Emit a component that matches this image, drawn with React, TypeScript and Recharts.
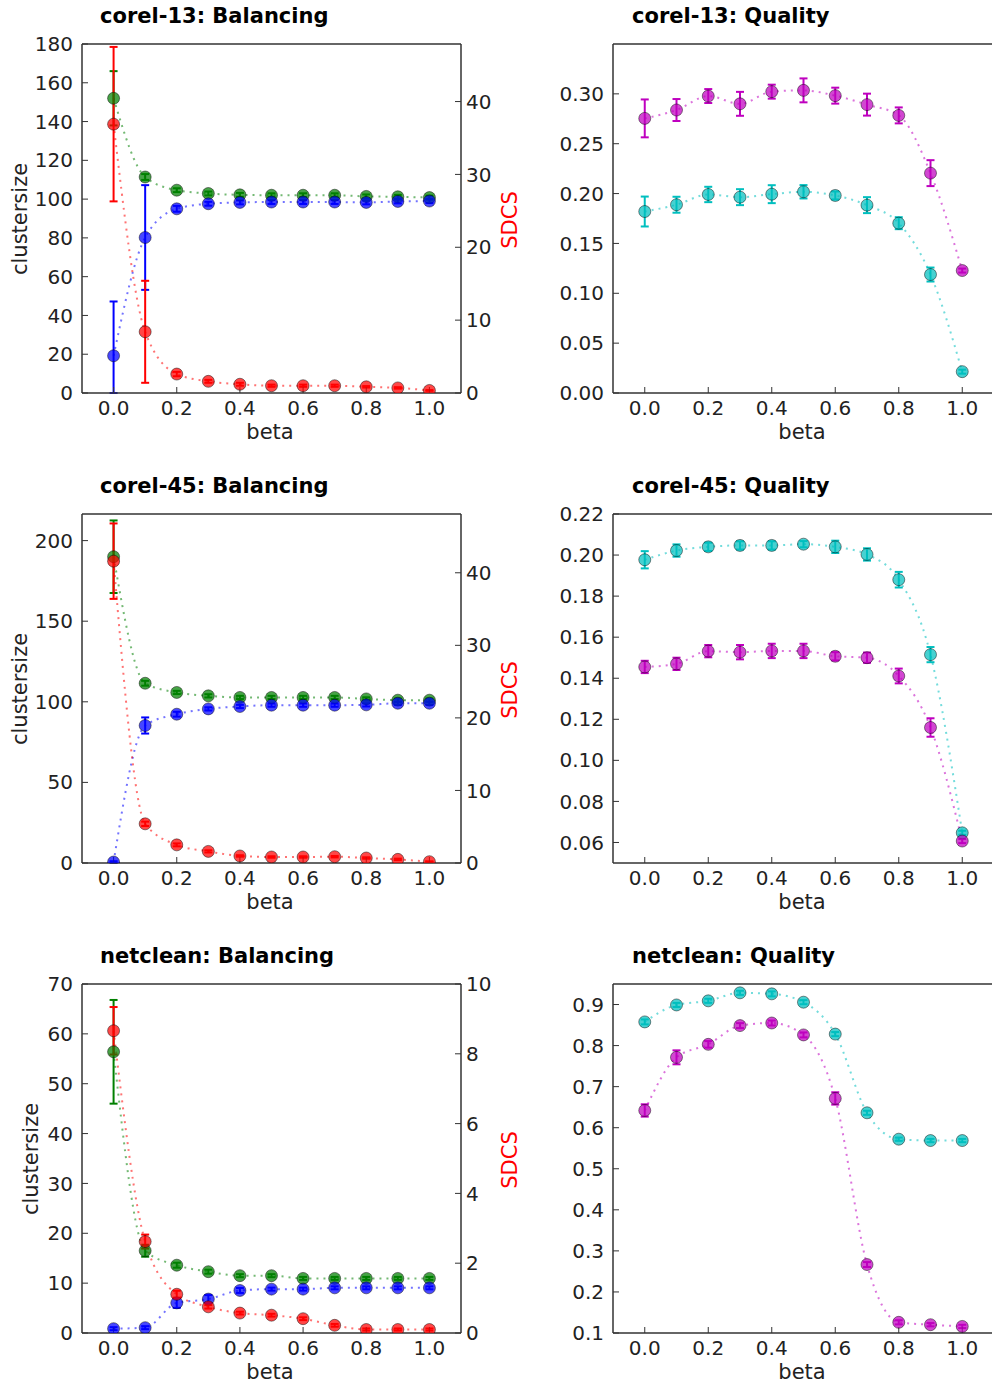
import React from 'react'
import { ComposedChart, Line, XAxis, YAxis, ErrorBar } from 'recharts'

const beta = [0, 0.1, 0.2, 0.3, 0.4, 0.5, 0.6, 0.7, 0.8, 0.9, 1.0]
const betaTicks = [0, 0.2, 0.4, 0.6, 0.8, 1.0]

// corel-13 balancing (green / blue on clustersize axis, red on SDCS axis)
const c13Green = [152, 111.4, 104.6, 102.9, 102.2, 102.0, 102.0, 102.0, 101.4, 101.2, 100.8]
const c13GreenErr = [14, 1.5, 1, 1, 1, 1, 1, 1, 1, 1, 1]
const c13Blue = [19.2, 80.2, 95, 97.6, 98.3, 98.5, 98.5, 98.5, 98.3, 98.8, 99]
const c13BlueErr = [28, 27, 1.5, 1, 1, 1, 1, 1, 1, 1, 1]
const c13Red = [36.9, 8.4, 2.6, 1.6, 1.2, 1.0, 1.0, 1.0, 0.85, 0.7, 0.35]
const c13RedErr = [10.6, 7.0, 0.3, 0.2, 0.2, 0.15, 0.15, 0.15, 0.1, 0.1, 0.05]

// corel-13 quality
const c13Magenta = [0.2754, 0.2838, 0.2978, 0.29, 0.3022, 0.3035, 0.2982, 0.2892, 0.2784, 0.2205, 0.1228]
const c13MagentaErr = [0.019, 0.011, 0.007, 0.012, 0.007, 0.012, 0.008, 0.011, 0.008, 0.013, 0.002]
const c13Cyan = [0.182, 0.1888, 0.1991, 0.1964, 0.1994, 0.2018, 0.1981, 0.1884, 0.1703, 0.1188, 0.0214]
const c13CyanErr = [0.015, 0.008, 0.0077, 0.008, 0.009, 0.0067, 0.004, 0.008, 0.006, 0.007, 0.002]

// corel-45 balancing
const c45Green = [190, 111.5, 105.8, 103.7, 102.7, 102.7, 102.7, 102.7, 101.8, 101, 101]
const c45GreenErr = [22.5, 1.5, 1, 1, 1, 1, 1, 1, 1, 1, 1]
const c45Blue = [0.6, 85.3, 92.3, 95.6, 97.1, 97.9, 97.9, 97.9, 98.1, 99.1, 99.1]
const c45BlueErr = [0.5, 5, 1.5, 1, 1, 1, 1, 1, 1, 1, 1]
const c45Red = [41.6, 5.4, 2.5, 1.6, 0.97, 0.83, 0.83, 0.87, 0.69, 0.5, 0.18]
const c45RedErr = [5.2, 0.3, 0.2, 0.15, 0.1, 0.1, 0.1, 0.1, 0.1, 0.1, 0.05]

// corel-45 quality
const c45Cyan = [0.1977, 0.2022, 0.204, 0.2047, 0.2047, 0.2053, 0.204, 0.2003, 0.188, 0.1515, 0.0647]
const c45CyanErr = [0.0042, 0.003, 0.002, 0.002, 0.002, 0.0015, 0.003, 0.003, 0.0038, 0.0037, 0.001]
const c45Magenta = [0.1455, 0.147, 0.1532, 0.1527, 0.1533, 0.1533, 0.1507, 0.15, 0.1411, 0.116, 0.0607]
const c45MagentaErr = [0.003, 0.003, 0.003, 0.0035, 0.0035, 0.0035, 0.002, 0.0025, 0.0036, 0.0045, 0.001]

// netclean balancing
const ncGreen = [56.4, 16.5, 13.6, 12.3, 11.5, 11.5, 10.95, 10.95, 10.95, 10.95, 10.95]
const ncGreenErr = [10.4, 1.2, 0.5, 0.4, 0.3, 0.3, 0.3, 0.3, 0.3, 0.3, 0.3]
const ncBlue = [0.87, 1.07, 6.04, 6.8, 8.53, 8.8, 8.8, 9.06, 9.06, 9.06, 9.06]
const ncBlueErr = [0.3, 0.3, 1, 0.8, 0.5, 0.3, 0.3, 0.3, 0.3, 0.3, 0.3]
const ncRed = [8.66, 2.62, 1.11, 0.75, 0.57, 0.51, 0.41, 0.22, 0.1, 0.1, 0.1]
const ncRedErr = [0.68, 0.2, 0.1, 0.05, 0.04, 0.04, 0.04, 0.04, 0.03, 0.03, 0.03]

// netclean quality
const ncCyan = [0.8577, 0.899, 0.909, 0.9285, 0.926, 0.9057, 0.828, 0.6363, 0.572, 0.5687, 0.5687]
const ncCyanErr = [0.006, 0.005, 0.005, 0.005, 0.006, 0.005, 0.005, 0.005, 0.004, 0.004, 0.004]
const ncMagenta = [0.642, 0.7714, 0.803, 0.8487, 0.855, 0.826, 0.6713, 0.2667, 0.126, 0.1202, 0.116]
const ncMagentaErr = [0.015, 0.017, 0.008, 0.006, 0.006, 0.006, 0.015, 0.006, 0.005, 0.004, 0.004]

const GREEN = '#008000'
const BLUE = '#0000ff'
const RED = '#ff0000'
const CYAN = '#00bfbf'
const MAGENTA = '#bf00bf'
const FRAME = '#333'
const FONT = 'DejaVu Sans'

type Series = { key: string; values: number[]; errors: number[]; color: string; axis: string }

type PanelProps = {
  left: number
  top: number
  series: Series[]
  leftDomain: number[]
  leftTicks: number[]
  leftFmt: (v: number) => string
  leftWidth: number
  rightDomain: number[]
  rightTicks: number[]
  rightLabels: boolean
  rightWidth: number
}

const tickStyle = { fill: '#222', fontSize: 20, fontFamily: FONT }

function Panel(p: PanelProps) {
  const data = beta.map((b, i) => {
    const row: Record<string, number> = { beta: b }
    p.series.forEach((s) => {
      row[s.key] = s.values[i]
      row[s.key + 'Err'] = s.errors[i]
    })
    return row
  })

  return (
    <div style={{ position: 'absolute', left: p.left, top: p.top }}>
      <ComposedChart width={500} height={460} data={data} margin={{ top: 40, right: 0, bottom: 0, left: 0 }}>
        <XAxis
          xAxisId="t"
          orientation="top"
          type="number"
          dataKey="beta"
          domain={[-0.1, 1.1]}
          ticks={betaTicks}
          tick={false}
          tickSize={-6}
          height={4}
          axisLine={{ stroke: FRAME, strokeWidth: 1.5 }}
          tickLine={{ stroke: FRAME }}
          allowDataOverflow
        />
        <XAxis
          xAxisId="b"
          type="number"
          dataKey="beta"
          domain={[-0.1, 1.1]}
          ticks={betaTicks}
          interval={0}
          tickFormatter={(v: number) => v.toFixed(1)}
          tickSize={-6}
          tickMargin={14}
          height={67}
          tick={tickStyle}
          axisLine={{ stroke: FRAME, strokeWidth: 1.5 }}
          tickLine={{ stroke: FRAME }}
          allowDataOverflow
        />
        <YAxis
          yAxisId="l"
          type="number"
          domain={p.leftDomain}
          ticks={p.leftTicks}
          interval={0}
          tickFormatter={p.leftFmt}
          tickSize={-6}
          tickMargin={15}
          width={p.leftWidth}
          tick={tickStyle}
          axisLine={{ stroke: FRAME, strokeWidth: 1.5 }}
          tickLine={{ stroke: FRAME }}
          allowDataOverflow
        />
        <YAxis
          yAxisId="r"
          orientation="right"
          type="number"
          domain={p.rightDomain}
          ticks={p.rightTicks}
          interval={0}
          tickFormatter={(v: number) => String(v)}
          tickSize={-6}
          tickMargin={11}
          width={p.rightWidth}
          tick={p.rightLabels ? tickStyle : false}
          axisLine={{ stroke: FRAME, strokeWidth: 1.5 }}
          tickLine={{ stroke: FRAME }}
          allowDataOverflow
        />
        {p.series.map((s) => {
          const [lo, hi] = s.axis === 'l' ? p.leftDomain : p.rightDomain
          // error bars are cut at the plot frame, like the axes clip them
          const errRange = (d: Record<string, number>) => {
            const v = d[s.key]
            const e = d[s.key + 'Err']
            return [Math.min(e, v - lo), Math.min(e, hi - v)]
          }
          return (
            <Line
              key={s.key}
              xAxisId="b"
              yAxisId={s.axis}
              dataKey={s.key}
              type="monotone"
              stroke={s.color}
              strokeOpacity={0.55}
              strokeWidth={2}
              strokeDasharray="2 5"
              activeDot={false}
              isAnimationActive={false}
              dot={(d: any) => (
                <circle
                  key={`${s.key}-${d.index}`}
                  cx={d.cx}
                  cy={d.cy}
                  r={6}
                  fill={s.color}
                  fillOpacity={0.72}
                  stroke="#000"
                  strokeOpacity={0.45}
                  strokeWidth={1}
                />
              )}
            >
              <ErrorBar
                dataKey={errRange}
                direction="y"
                width={4}
                strokeWidth={2}
                stroke={s.color}
                isAnimationActive={false}
              />
            </Line>
          )
        })}
      </ComposedChart>
    </div>
  )
}

const intFmt = (v: number) => String(v)
const fmt2 = (v: number) => v.toFixed(2)
const fmt1 = (v: number) => v.toFixed(1)

const rows = [
  {
    name: 'corel-13',
    balance: [
      { key: 'green', values: c13Green, errors: c13GreenErr, color: GREEN, axis: 'l' },
      { key: 'blue', values: c13Blue, errors: c13BlueErr, color: BLUE, axis: 'l' },
      { key: 'red', values: c13Red, errors: c13RedErr, color: RED, axis: 'r' },
    ],
    sizeDomain: [0, 180],
    sizeTicks: [0, 20, 40, 60, 80, 100, 120, 140, 160, 180],
    sdcsDomain: [0, 47.9],
    sdcsTicks: [0, 10, 20, 30, 40],
    quality: [
      { key: 'magenta', values: c13Magenta, errors: c13MagentaErr, color: MAGENTA, axis: 'l' },
      { key: 'cyan', values: c13Cyan, errors: c13CyanErr, color: CYAN, axis: 'l' },
    ],
    qDomain: [0, 0.35],
    qTicks: [0, 0.05, 0.1, 0.15, 0.2, 0.25, 0.3],
    qFmt: fmt2,
    labelX: 27,
  },
  {
    name: 'corel-45',
    balance: [
      { key: 'green', values: c45Green, errors: c45GreenErr, color: GREEN, axis: 'l' },
      { key: 'blue', values: c45Blue, errors: c45BlueErr, color: BLUE, axis: 'l' },
      { key: 'red', values: c45Red, errors: c45RedErr, color: RED, axis: 'r' },
    ],
    sizeDomain: [0, 216.5],
    sizeTicks: [0, 50, 100, 150, 200],
    sdcsDomain: [0, 48.1],
    sdcsTicks: [0, 10, 20, 30, 40],
    quality: [
      { key: 'cyan', values: c45Cyan, errors: c45CyanErr, color: CYAN, axis: 'l' },
      { key: 'magenta', values: c45Magenta, errors: c45MagentaErr, color: MAGENTA, axis: 'l' },
    ],
    qDomain: [0.05, 0.22],
    qTicks: [0.06, 0.08, 0.1, 0.12, 0.14, 0.16, 0.18, 0.2, 0.22],
    qFmt: fmt2,
    labelX: 27,
  },
  {
    name: 'netclean',
    balance: [
      { key: 'green', values: ncGreen, errors: ncGreenErr, color: GREEN, axis: 'l' },
      { key: 'blue', values: ncBlue, errors: ncBlueErr, color: BLUE, axis: 'l' },
      { key: 'red', values: ncRed, errors: ncRedErr, color: RED, axis: 'r' },
    ],
    sizeDomain: [0, 70],
    sizeTicks: [0, 10, 20, 30, 40, 50, 60, 70],
    sdcsDomain: [0, 10],
    sdcsTicks: [0, 2, 4, 6, 8, 10],
    quality: [
      { key: 'cyan', values: ncCyan, errors: ncCyanErr, color: CYAN, axis: 'l' },
      { key: 'magenta', values: ncMagenta, errors: ncMagentaErr, color: MAGENTA, axis: 'l' },
    ],
    qDomain: [0.1, 0.95],
    qTicks: [0.1, 0.2, 0.3, 0.4, 0.5, 0.6, 0.7, 0.8, 0.9],
    qFmt: fmt1,
    labelX: 37.5,
  },
]

export default function App() {
  return (
    <div
      style={{
        position: 'absolute',
        left: 0,
        top: 0,
        width: 992,
        height: 1384,
        background: '#fff',
        overflow: 'hidden',
      }}
    >
      {rows.map((r, i) => (
        <React.Fragment key={r.name}>
          <Panel
            left={0}
            top={470 * i}
            series={r.balance}
            leftDomain={r.sizeDomain}
            leftTicks={r.sizeTicks}
            leftFmt={intFmt}
            leftWidth={82}
            rightDomain={r.sdcsDomain}
            rightTicks={r.sdcsTicks}
            rightLabels
            rightWidth={39}
          />
          <Panel
            left={500}
            top={470 * i}
            series={r.quality}
            leftDomain={r.qDomain}
            leftTicks={r.qTicks}
            leftFmt={r.qFmt}
            leftWidth={113}
            rightDomain={r.qDomain}
            rightTicks={r.qTicks}
            rightLabels={false}
            rightWidth={6}
          />
        </React.Fragment>
      ))}
      <svg
        width={992}
        height={1384}
        style={{ position: 'absolute', left: 0, top: 0, pointerEvents: 'none' }}
        fontFamily={FONT}
      >
        {rows.map((r, i) => {
          const oy = 470 * i
          return (
            <g key={r.name}>
              <text x={100} y={oy + 22.7} fontSize={21} fontWeight="bold" fill="#000">
                {r.name}: Balancing
              </text>
              <text x={632} y={oy + 22.7} fontSize={21} fontWeight="bold" fill="#000">
                {r.name}: Quality
              </text>
              <text x={270} y={oy + 439} fontSize={21} textAnchor="middle" fill="#222">
                beta
              </text>
              <text x={802} y={oy + 439} fontSize={21} textAnchor="middle" fill="#222">
                beta
              </text>
              <text
                x={r.labelX}
                y={oy + 219}
                fontSize={21}
                textAnchor="middle"
                fill="#222"
                transform={`rotate(-90 ${r.labelX} ${oy + 219})`}
              >
                clustersize
              </text>
              <text
                x={516.7}
                y={oy + 220}
                fontSize={21}
                textAnchor="middle"
                fill={RED}
                transform={`rotate(-90 516.7 ${oy + 220})`}
              >
                SDCS
              </text>
            </g>
          )
        })}
      </svg>
    </div>
  )
}
